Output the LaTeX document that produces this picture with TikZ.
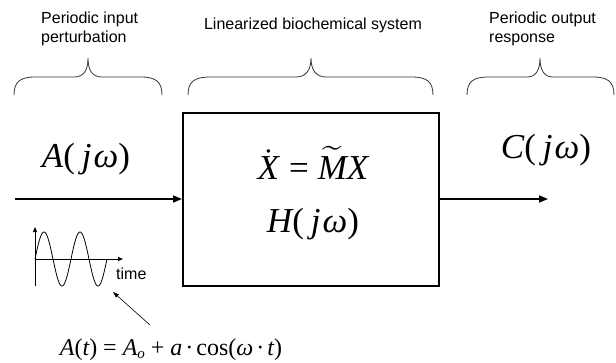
\documentclass[tikz,border=0pt]{standalone}
\usepackage{mathptmx}
\usepackage{fontspec}
\setmainfont{Liberation Serif}
\newfontfamily\labelfont{Liberation Sans}
\usetikzlibrary{arrows.meta}
% italic Times-style symbol
\newcommand{\iv}[1]{{\itshape #1}}
% argument "( j omega )" of a frequency response
\newcommand{\jw}{(\kern7pt\iv{j}\kern2pt\iv{ω})}
\tikzset{
  caption/.style={font=\labelfont\fontsize{16}{19}\selectfont, align=left, inner sep=0pt},
  bigmath/.style={font=\fontsize{35}{40}\selectfont, inner sep=0pt, anchor=base},
  brace/.style={line width=0.8pt, draw=black!80},
  flow/.style={line width=1.6pt, -{Triangle[length=9pt,width=7pt]}},
  sysbox/.style={draw, line width=2pt, minimum width=256pt, minimum height=173pt, inner sep=0pt},
}
\begin{document}
\begin{tikzpicture}[x=1pt,y=-1pt]
\useasboundingbox (0,0) rectangle (616,362);

% captions above the braces
\node[caption, anchor=west] (capin) at (41,29) {Periodic input\\perturbation};
\node[caption, anchor=center] (capsys) at (313,25) {Linearized biochemical system};
\node[caption, anchor=west] (capout) at (489,29) {Periodic output\\response};

% curly braces
\draw[brace] (14,95) .. controls (14,82) and (20,77) .. (35,77) -- (74,77)
  .. controls (84,77) and (88,70) .. (88,58)
  .. controls (88,70) and (92,77) .. (102,77) -- (141,77)
  .. controls (156,77) and (162,82) .. (162,95);
\draw[brace] (188,95) .. controls (188,82) and (194,77) .. (210,77) -- (296,77)
  .. controls (306,77) and (311,70) .. (311,58)
  .. controls (311,70) and (316,77) .. (326,77) -- (412,77)
  .. controls (427,77) and (433,82) .. (433,95);
\draw[brace] (467,95) .. controls (467,82) and (473,77) .. (488,77) -- (527,77)
  .. controls (536,77) and (540,70) .. (540,58)
  .. controls (540,70) and (544,77) .. (553,77) -- (593,77)
  .. controls (608,77) and (614,82) .. (614,95);

% the system block
\node[sysbox] (sys) at (311,199.5) {};
\node[bigmath] (eq) at (313,179)
  {$\dot{\hbox{\iv{X}}}$\kern10pt=\kern9pt$\widetilde{\hbox{\iv{M}}}$\iv{X}};
\node[bigmath] (tf) at (313,232) {\iv{H}\jw};

% input and output signals
\coordinate (in) at (15,199);
\coordinate (out) at (548,199);
\draw[flow] (in) -- (sys.west |- in);
\draw[flow] (sys.east |- out) -- (out);
\node[bigmath] (ain) at (86,167) {\iv{A}\jw};
\node[bigmath] (cout) at (546,158) {\iv{C}\jw};

% small sketch of the periodic input
\coordinate (orig) at (35,259);
\coordinate (ytop) at (35,227);
\coordinate (ybot) at (35,286);
\coordinate (xend) at (123,259);
\draw[line width=0.7pt] (ybot) -- (orig);
\draw[line width=0.7pt, -{Triangle[length=5pt,width=4pt]}] (orig) -- (ytop);
\draw[line width=0.7pt, -{Triangle[length=5pt,width=4pt]}] (orig) -- (xend);
\draw[line width=0.8pt, domain=0:72, samples=120, smooth]
  plot ({35+\x}, {259-27*sin(\x*10)});
\node[caption, anchor=west] (time) at (116,274) {time};

% formula of the input with its pointer
\node[bigmath, font=\fontsize{24}{28}\selectfont] (formula) at (171,355)
  {\iv{A}(\iv{t}) = \iv{A}\raisebox{-0.3ex}{\fontsize{15}{15}\selectfont\iv{o}} + \iv{a}\kern3pt·\kern3pt cos(\iv{ω}\kern3pt·\kern3pt\iv{t})};
\coordinate (ptr) at (150,325);
\coordinate (tip) at (113,292);
\draw[line width=0.6pt, -{Triangle[length=6pt,width=4pt]}] (ptr) -- (tip);
\end{tikzpicture}
\end{document}
